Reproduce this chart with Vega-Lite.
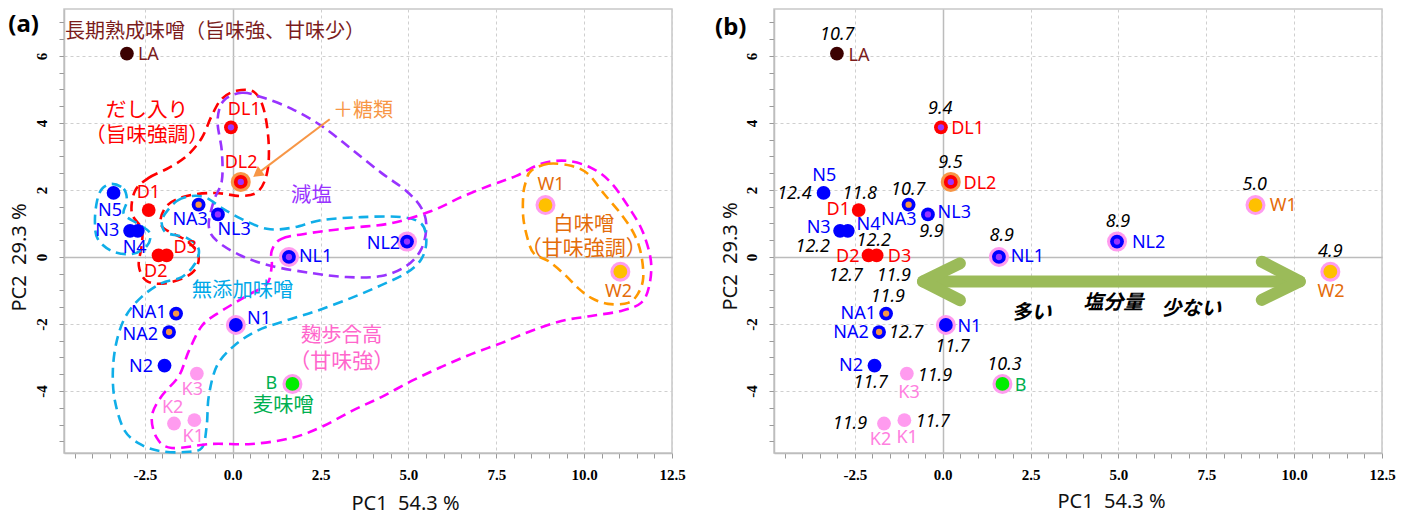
{
"$schema": "https://vega.github.io/schema/vega-lite/v6.json",
"autosize": {"type": "pad"},
"padding": {"left": 7, "top": 8, "right": 5, "bottom": 0},
"bounds": "flush",
"spacing": 102,
"background": "white",
"config": {
  "view": {"stroke": "#c8c8c8", "strokeWidth": 1.5},
  "axis": {"labelFont": "Liberation Serif", "labelFontWeight": "bold", "labelFontSize": 15, "labelColor": "#000", "titleFont": "Noto Sans", "titleFontSize": 20, "titleFontWeight": "normal", "titleColor": "#111", "domainColor": "#bdbdbd", "domainWidth": 1.5, "tickColor": "#999", "tickSize": 5, "tickWidth": 1, "labelFlush": false, "labelOverlap": false}
},
"datasets": {
  "pts": [
    {"id":"LA","x":-3.01,"y":6.07,"base":"L"},
    {"id":"DL1","x":-0.05,"y":3.87,"base":"D","inner":"減塩"},
    {"id":"DL2","x":0.23,"y":2.24,"base":"D","inner":"減塩","outer":"糖類"},
    {"id":"N5","x":-3.39,"y":1.91,"base":"N"},
    {"id":"D1","x":-2.39,"y":1.40,"base":"D"},
    {"id":"NA3","x":-0.97,"y":1.56,"base":"N","inner":"糖類"},
    {"id":"NL3","x":-0.42,"y":1.27,"base":"N","inner":"減塩"},
    {"id":"N3","x":-2.92,"y":0.78,"base":"N"},
    {"id":"N4","x":-2.70,"y":0.78,"base":"N"},
    {"id":"D2","x":-2.11,"y":0.05,"base":"D"},
    {"id":"D3","x":-1.88,"y":0.05,"base":"D"},
    {"id":"NL1","x":1.60,"y":0.0,"base":"N","inner":"減塩","outer":"麹"},
    {"id":"NL2","x":4.96,"y":0.46,"base":"N","inner":"減塩","outer":"麹"},
    {"id":"W1","x":8.90,"y":1.55,"base":"W","outer":"麹"},
    {"id":"W2","x":11.03,"y":-0.44,"base":"W","outer":"麹"},
    {"id":"NA1","x":-1.61,"y":-1.69,"base":"N","inner":"糖類"},
    {"id":"NA2","x":-1.81,"y":-2.24,"base":"N","inner":"糖類"},
    {"id":"N1","x":0.09,"y":-2.03,"base":"N","outer":"麹"},
    {"id":"N2","x":-1.94,"y":-3.24,"base":"N"},
    {"id":"K3","x":-1.02,"y":-3.48,"base":"K"},
    {"id":"K2","x":-1.67,"y":-4.97,"base":"K"},
    {"id":"K1","x":-1.09,"y":-4.87,"base":"K"},
    {"id":"B","x":1.70,"y":-3.79,"base":"B","outer":"麹"}
  ],
  "labA": [
    {"t":"LA","x":-2.40,"y":6.02,"base":"L"},
    {"t":"DL1","x":0.33,"y":4.39,"base":"D"},
    {"t":"DL2","x":0.24,"y":2.80,"base":"D"},
    {"t":"D1","x":-2.40,"y":1.92,"base":"D"},
    {"t":"N5","x":-3.49,"y":1.37,"base":"N"},
    {"t":"NA3","x":-1.21,"y":1.11,"base":"N"},
    {"t":"NL3","x":0.04,"y":0.80,"base":"N"},
    {"t":"N3","x":-3.57,"y":0.78,"base":"N"},
    {"t":"N4","x":-2.79,"y":0.26,"base":"N"},
    {"t":"D3","x":-1.35,"y":0.26,"base":"D"},
    {"t":"D2","x":-2.19,"y":-0.44,"base":"D"},
    {"t":"NL1","x":2.36,"y":0.0,"base":"N"},
    {"t":"NL2","x":4.29,"y":0.38,"base":"N"},
    {"t":"W1","x":9.06,"y":2.14,"base":"W"},
    {"t":"W2","x":10.98,"y":-1.04,"base":"W"},
    {"t":"NA1","x":-2.39,"y":-1.68,"base":"N"},
    {"t":"NA2","x":-2.63,"y":-2.34,"base":"N"},
    {"t":"N1","x":0.75,"y":-1.86,"base":"N"},
    {"t":"N2","x":-2.61,"y":-3.28,"base":"N"},
    {"t":"K3","x":-1.15,"y":-3.98,"base":"K"},
    {"t":"K2","x":-1.71,"y":-4.52,"base":"K"},
    {"t":"K1","x":-1.12,"y":-5.36,"base":"K"},
    {"t":"B","x":1.10,"y":-3.80,"base":"B"}
  ],
  "labB": [
    {"t":"LA","x":-2.38,"y":6.0,"base":"L"},
    {"t":"DL1","x":0.71,"y":3.81,"base":"D"},
    {"t":"DL2","x":1.06,"y":2.19,"base":"D"},
    {"t":"N5","x":-3.37,"y":2.42,"base":"N"},
    {"t":"D1","x":-2.97,"y":1.39,"base":"D"},
    {"t":"NA3","x":-1.25,"y":1.11,"base":"N"},
    {"t":"NL3","x":0.33,"y":1.32,"base":"N"},
    {"t":"N3","x":-3.53,"y":0.87,"base":"N"},
    {"t":"N4","x":-2.11,"y":0.94,"base":"N"},
    {"t":"D2","x":-2.70,"y":0.0,"base":"D"},
    {"t":"D3","x":-1.23,"y":0.0,"base":"D"},
    {"t":"NL1","x":2.41,"y":0.0,"base":"N"},
    {"t":"NL2","x":5.86,"y":0.43,"base":"N"},
    {"t":"W1","x":9.69,"y":1.52,"base":"W"},
    {"t":"W2","x":11.05,"y":-1.04,"base":"W"},
    {"t":"NA1","x":-2.40,"y":-1.71,"base":"N"},
    {"t":"NA2","x":-2.61,"y":-2.26,"base":"N"},
    {"t":"N1","x":0.76,"y":-2.09,"base":"N"},
    {"t":"N2","x":-2.61,"y":-3.25,"base":"N"},
    {"t":"K3","x":-0.96,"y":-4.05,"base":"K"},
    {"t":"B","x":2.22,"y":-3.85,"base":"B"},
    {"t":"K2","x":-1.77,"y":-5.47,"base":"K"},
    {"t":"K1","x":-1.01,"y":-5.41,"base":"K"}
  ],
  "salt": [
    {"t":"10.7","x":-3.00,"y":6.62},
    {"t":"9.4","x":-0.07,"y":4.41},
    {"t":"9.5","x":0.22,"y":2.79},
    {"t":"12.4","x":-4.22,"y":1.89},
    {"t":"11.8","x":-2.36,"y":1.89},
    {"t":"10.7","x":-0.98,"y":2.00},
    {"t":"9.9","x":-0.32,"y":0.76},
    {"t":"12.2","x":-3.70,"y":0.31},
    {"t":"12.2","x":-1.96,"y":0.48},
    {"t":"12.7","x":-2.76,"y":-0.58},
    {"t":"11.9","x":-1.39,"y":-0.58},
    {"t":"8.9","x":1.68,"y":0.62},
    {"t":"8.9","x":4.99,"y":1.04},
    {"t":"5.0","x":8.88,"y":2.14},
    {"t":"4.9","x":11.03,"y":0.15},
    {"t":"11.9","x":-1.56,"y":-1.19},
    {"t":"12.7","x":-1.04,"y":-2.26},
    {"t":"11.7","x":0.28,"y":-2.68},
    {"t":"11.7","x":-2.05,"y":-3.77},
    {"t":"11.9","x":-0.22,"y":-3.55},
    {"t":"10.3","x":1.76,"y":-3.21},
    {"t":"11.9","x":-2.64,"y":-4.98},
    {"t":"11.7","x":-0.28,"y":-4.93}
  ],
  "annA": [
    {"t":"長期熟成味噌（旨味強、甘味少）","x":-0.50,"y":6.70,"c":"head","k":"a"},
    {"t":"だし入り","x":-2.44,"y":4.36,"c":"dashi","k":"c"},
    {"t":"（旨味強調）","x":-2.44,"y":3.61,"c":"dashi","k":"c"},
    {"t":"＋糖類","x":3.71,"y":4.36,"c":"sugar","k":"a"},
    {"t":"減塩","x":2.24,"y":1.82,"c":"gen","k":"b"},
    {"t":"無添加味噌","x":0.28,"y":-1.01,"c":"mutenka","k":"b"},
    {"t":"麹歩合高","x":3.10,"y":-2.36,"c":"koji","k":"b"},
    {"t":"（甘味強）","x":3.10,"y":-3.13,"c":"koji","k":"d"},
    {"t":"麦味噌","x":1.44,"y":-4.44,"c":"mugi","k":"b"},
    {"t":"白味噌","x":9.99,"y":0.96,"c":"shiro","k":"b"},
    {"t":"（甘味強調）","x":9.99,"y":0.23,"c":"shiro","k":"d"}
  ],
  "annB": [
    {"t":"多い","x":2.53,"y":-1.66},
    {"t":"塩分量","x":4.85,"y":-1.36},
    {"t":"少ない","x":7.07,"y":-1.56}
  ],
  "tagA": [{"t":"(a)","x":-5.95,"y":6.93}],
  "tagB": [{"t":"(b)","x":-6.03,"y":6.84}],
  "arrowA": [
    {"s":"o","o":1,"x":2.76,"y":4.11},
    {"s":"o","o":2,"x":0.70,"y":2.48}
  ],
  "headA": [{"x":0.70,"y":2.48}],
  "arrowB": [
    {"s":"a","o":1,"x":-0.56,"y":-0.73},
    {"s":"a","o":2,"x":10.16,"y":-0.73},
    {"s":"b","o":1,"x":0.49,"y":-0.19},
    {"s":"b","o":2,"x":-0.56,"y":-0.73},
    {"s":"b","o":3,"x":0.49,"y":-1.29},
    {"s":"c","o":1,"x":9.08,"y":-0.14},
    {"s":"c","o":2,"x":10.16,"y":-0.73},
    {"s":"c","o":3,"x":9.08,"y":-1.28}
  ],
  "contours": [
    {"g":"dashi","o":1,"x":-2.78,"y":1.97},{"g":"dashi","o":2,"x":-2.39,"y":2.36},{"g":"dashi","o":3,"x":-1.82,"y":2.66},{"g":"dashi","o":4,"x":-1.31,"y":3.01},{"g":"dashi","o":5,"x":-0.88,"y":3.55},{"g":"dashi","o":6,"x":-0.60,"y":4.21},{"g":"dashi","o":7,"x":-0.31,"y":4.72},{"g":"dashi","o":8,"x":0.11,"y":4.96},{"g":"dashi","o":9,"x":0.60,"y":4.93},{"g":"dashi","o":10,"x":0.88,"y":4.42},{"g":"dashi","o":11,"x":1.02,"y":3.46},{"g":"dashi","o":12,"x":0.99,"y":2.57},{"g":"dashi","o":13,"x":0.74,"y":1.97},{"g":"dashi","o":14,"x":0.26,"y":1.82},{"g":"dashi","o":15,"x":-0.51,"y":1.91},{"g":"dashi","o":16,"x":-1.31,"y":1.82},{"g":"dashi","o":17,"x":-1.88,"y":1.52},{"g":"dashi","o":18,"x":-2.02,"y":0.93},{"g":"dashi","o":19,"x":-1.31,"y":0.48},{"g":"dashi","o":20,"x":-0.97,"y":0.03},{"g":"dashi","o":21,"x":-1.16,"y":-0.48},{"g":"dashi","o":22,"x":-1.88,"y":-0.78},{"g":"dashi","o":23,"x":-2.44,"y":-0.72},{"g":"dashi","o":24,"x":-2.67,"y":-0.27},{"g":"dashi","o":25,"x":-2.59,"y":0.33},{"g":"dashi","o":26,"x":-2.59,"y":0.84},{"g":"dashi","o":27,"x":-2.87,"y":1.31},
    {"g":"gen","o":1,"x":-0.26,"y":4.66},{"g":"gen","o":2,"x":0.26,"y":4.90},{"g":"gen","o":3,"x":0.88,"y":4.75},{"g":"gen","o":4,"x":1.68,"y":4.42},{"g":"gen","o":5,"x":2.53,"y":3.91},{"g":"gen","o":6,"x":3.38,"y":3.22},{"g":"gen","o":7,"x":4.23,"y":2.51},{"g":"gen","o":8,"x":4.94,"y":1.97},{"g":"gen","o":9,"x":5.37,"y":1.46},{"g":"gen","o":10,"x":5.51,"y":0.93},{"g":"gen","o":11,"x":5.37,"y":0.24},{"g":"gen","o":12,"x":4.94,"y":-0.27},{"g":"gen","o":13,"x":4.23,"y":-0.57},{"g":"gen","o":14,"x":3.24,"y":-0.60},{"g":"gen","o":15,"x":2.24,"y":-0.48},{"g":"gen","o":16,"x":1.11,"y":-0.27},{"g":"gen","o":17,"x":0.26,"y":0.03},{"g":"gen","o":18,"x":-0.45,"y":0.48},{"g":"gen","o":19,"x":-0.68,"y":0.93},{"g":"gen","o":20,"x":-0.54,"y":1.67},{"g":"gen","o":21,"x":-0.31,"y":2.27},{"g":"gen","o":22,"x":-0.31,"y":3.16},{"g":"gen","o":23,"x":-0.43,"y":4.06},
    {"g":"mut1","o":1,"x":-3.44,"y":2.18},{"g":"mut1","o":2,"x":-3.10,"y":2.03},{"g":"mut1","o":3,"x":-3.01,"y":1.67},{"g":"mut1","o":4,"x":-3.10,"y":1.28},{"g":"mut1","o":5,"x":-2.73,"y":1.01},{"g":"mut1","o":6,"x":-2.36,"y":0.72},{"g":"mut1","o":7,"x":-2.44,"y":0.33},{"g":"mut1","o":8,"x":-2.87,"y":0.09},{"g":"mut1","o":9,"x":-3.44,"y":0.18},{"g":"mut1","o":10,"x":-3.84,"y":0.54},{"g":"mut1","o":11,"x":-3.92,"y":1.07},{"g":"mut1","o":12,"x":-3.86,"y":1.67},{"g":"mut1","o":13,"x":-3.72,"y":2.03},
    {"g":"mut2","o":1,"x":-1.93,"y":1.28},{"g":"mut2","o":2,"x":-1.59,"y":1.67},{"g":"mut2","o":3,"x":-1.16,"y":1.82},{"g":"mut2","o":4,"x":-0.74,"y":1.76},{"g":"mut2","o":5,"x":-0.31,"y":1.46},{"g":"mut2","o":6,"x":0.26,"y":1.13},{"g":"mut2","o":7,"x":0.97,"y":0.84},{"g":"mut2","o":8,"x":1.68,"y":0.87},{"g":"mut2","o":9,"x":2.53,"y":1.10},{"g":"mut2","o":10,"x":3.66,"y":1.19},{"g":"mut2","o":11,"x":4.80,"y":1.19},{"g":"mut2","o":12,"x":5.37,"y":0.99},{"g":"mut2","o":13,"x":5.51,"y":0.48},{"g":"mut2","o":14,"x":5.37,"y":-0.06},{"g":"mut2","o":15,"x":4.94,"y":-0.48},{"g":"mut2","o":16,"x":4.23,"y":-0.84},{"g":"mut2","o":17,"x":3.38,"y":-1.22},{"g":"mut2","o":18,"x":2.39,"y":-1.61},{"g":"mut2","o":19,"x":1.48,"y":-1.91},{"g":"mut2","o":20,"x":0.68,"y":-2.21},{"g":"mut2","o":21,"x":0.03,"y":-2.66},{"g":"mut2","o":22,"x":-0.45,"y":-3.25},{"g":"mut2","o":23,"x":-0.68,"y":-4.15},{"g":"mut2","o":24,"x":-0.74,"y":-5.04},{"g":"mut2","o":25,"x":-0.88,"y":-5.70},{"g":"mut2","o":26,"x":-1.36,"y":-5.82},{"g":"mut2","o":27,"x":-2.02,"y":-5.80},{"g":"mut2","o":28,"x":-2.59,"y":-5.61},{"g":"mut2","o":29,"x":-3.07,"y":-5.19},{"g":"mut2","o":30,"x":-3.35,"y":-4.30},{"g":"mut2","o":31,"x":-3.41,"y":-3.40},{"g":"mut2","o":32,"x":-3.30,"y":-2.51},{"g":"mut2","o":33,"x":-3.04,"y":-1.76},{"g":"mut2","o":34,"x":-2.59,"y":-1.19},{"g":"mut2","o":35,"x":-2.02,"y":-0.78},{"g":"mut2","o":36,"x":-1.45,"y":-0.60},{"g":"mut2","o":37,"x":-1.08,"y":-0.21},{"g":"mut2","o":38,"x":-0.97,"y":0.24},{"g":"mut2","o":39,"x":-1.31,"y":0.57},{"g":"mut2","o":40,"x":-1.88,"y":0.72},{"g":"mut2","o":41,"x":-2.02,"y":1.01},
    {"g":"koji","o":1,"x":1.11,"y":0.18},{"g":"koji","o":2,"x":1.39,"y":0.54},{"g":"koji","o":3,"x":2.24,"y":0.72},{"g":"koji","o":4,"x":3.38,"y":0.87},{"g":"koji","o":5,"x":4.52,"y":1.01},{"g":"koji","o":6,"x":5.65,"y":1.37},{"g":"koji","o":7,"x":6.51,"y":1.79},{"g":"koji","o":8,"x":7.36,"y":2.15},{"g":"koji","o":9,"x":8.07,"y":2.42},{"g":"koji","o":10,"x":8.78,"y":2.78},{"g":"koji","o":11,"x":9.49,"y":2.87},{"g":"koji","o":12,"x":10.20,"y":2.66},{"g":"koji","o":13,"x":10.77,"y":2.21},{"g":"koji","o":14,"x":11.34,"y":1.37},{"g":"koji","o":15,"x":11.68,"y":0.72},{"g":"koji","o":16,"x":11.90,"y":-0.12},{"g":"koji","o":17,"x":11.85,"y":-0.87},{"g":"koji","o":18,"x":11.62,"y":-1.37},{"g":"koji","o":19,"x":11.05,"y":-1.61},{"g":"koji","o":20,"x":10.20,"y":-1.76},{"g":"koji","o":21,"x":9.35,"y":-1.91},{"g":"koji","o":22,"x":8.49,"y":-2.21},{"g":"koji","o":23,"x":7.64,"y":-2.57},{"g":"koji","o":24,"x":6.79,"y":-2.90},{"g":"koji","o":25,"x":5.94,"y":-3.28},{"g":"koji","o":26,"x":5.09,"y":-3.70},{"g":"koji","o":27,"x":4.23,"y":-4.18},{"g":"koji","o":28,"x":3.38,"y":-4.60},{"g":"koji","o":29,"x":2.53,"y":-5.07},{"g":"koji","o":30,"x":1.68,"y":-5.40},{"g":"koji","o":31,"x":0.54,"y":-5.58},{"g":"koji","o":32,"x":-0.60,"y":-5.58},{"g":"koji","o":33,"x":-1.73,"y":-5.70},{"g":"koji","o":34,"x":-2.16,"y":-5.40},{"g":"koji","o":35,"x":-2.30,"y":-4.75},{"g":"koji","o":36,"x":-2.02,"y":-4.15},{"g":"koji","o":37,"x":-1.53,"y":-3.55},{"g":"koji","o":38,"x":-1.25,"y":-2.81},{"g":"koji","o":39,"x":-0.88,"y":-2.06},{"g":"koji","o":40,"x":-0.45,"y":-1.70},{"g":"koji","o":41,"x":0.40,"y":-1.16},{"g":"koji","o":42,"x":0.97,"y":-0.81},{"g":"koji","o":43,"x":1.11,"y":-0.27},
    {"g":"shiro","o":1,"x":8.49,"y":2.57},{"g":"shiro","o":2,"x":8.98,"y":2.78},{"g":"shiro","o":3,"x":9.63,"y":2.72},{"g":"shiro","o":4,"x":10.11,"y":2.48},{"g":"shiro","o":5,"x":10.57,"y":1.88},{"g":"shiro","o":6,"x":11.05,"y":1.28},{"g":"shiro","o":7,"x":11.42,"y":0.69},{"g":"shiro","o":8,"x":11.62,"y":0.09},{"g":"shiro","o":9,"x":11.68,"y":-0.63},{"g":"shiro","o":10,"x":11.53,"y":-1.10},{"g":"shiro","o":11,"x":11.25,"y":-1.37},{"g":"shiro","o":12,"x":10.68,"y":-1.40},{"g":"shiro","o":13,"x":10.20,"y":-1.22},{"g":"shiro","o":14,"x":9.83,"y":-0.93},{"g":"shiro","o":15,"x":9.43,"y":-0.51},{"g":"shiro","o":16,"x":8.98,"y":-0.12},{"g":"shiro","o":17,"x":8.58,"y":0.09},{"g":"shiro","o":18,"x":8.41,"y":0.48},{"g":"shiro","o":19,"x":8.27,"y":1.16},{"g":"shiro","o":20,"x":8.27,"y":1.88},{"g":"shiro","o":21,"x":8.35,"y":2.27}
  ]
},
"hconcat": [
  {
    "width": 608, "height": 444,
    "encoding": {
      "x": {"field": "x", "type": "quantitative", "scale": {"domain": [-4.8, 12.5], "nice": false, "zero": false},
        "axis": {"values": [-4.5,-4,-3.5,-3,-2.5,-2,-1.5,-1,-0.5,0,0.5,1,1.5,2,2.5,3,3.5,4,4.5,5,5.5,6,6.5,7,7.5,8,8.5,9,9.5,10,10.5,11,11.5,12,12.5],
          "labelExpr": "datum.value % 2.5 === 0 ? replace(format(datum.value, '.1f'), '\u2212', '-') : ''",
          "labelBaseline": "middle", "labelPadding": 16,
          "title": "PC1\u00a0\u00a054.3\u00a0%", "titleX": 341, "titleY": 50, "titleBaseline": "middle", "titleAlign": "center",
          "grid": true,
          "gridOpacity": {"condition": {"test": "datum.value % 2.5 === 0", "value": 1}, "value": 0},
          "gridDash": {"condition": {"test": "datum.value === 0", "value": []}, "value": [3, 3]},
          "gridColor": {"condition": {"test": "datum.value === 0", "value": "#bcbcbc"}, "value": "#cfcfcf"},
          "gridWidth": {"condition": {"test": "datum.value === 0", "value": 1.5}, "value": 1}}},
      "y": {"field": "y", "type": "quantitative", "scale": {"domain": [-5.85, 7.4], "nice": false, "zero": false},
        "axis": {"values": [-5.5,-5,-4.5,-4,-3.5,-3,-2.5,-2,-1.5,-1,-0.5,0,0.5,1,1.5,2,2.5,3,3.5,4,4.5,5,5.5,6,6.5,7],
          "labelExpr": "datum.value % 2 === 0 ? replace(format(datum.value, 'd'), '\u2212', '-') : ''",
          "labelAngle": -90, "labelAlign": "center", "labelBaseline": "middle", "labelPadding": 18,
          "title": "PC2\u00a0\u00a029.3\u00a0%", "titleX": -45, "titleY": 248, "titleAngle": -90, "titleBaseline": "middle", "titleAlign": "center",
          "grid": true,
          "gridOpacity": {"condition": {"test": "datum.value % 2 === 0", "value": 1}, "value": 0},
          "gridDash": {"condition": {"test": "datum.value === 0", "value": []}, "value": [3, 3]},
          "gridColor": {"condition": {"test": "datum.value === 0", "value": "#bcbcbc"}, "value": "#cfcfcf"},
          "gridWidth": {"condition": {"test": "datum.value === 0", "value": 1.5}, "value": 1}}}
    },
    "layer": [
      {"data": {"name": "contours"},
       "mark": {"type": "line", "interpolate": "cardinal-closed", "strokeWidth": 2.6, "strokeDash": [10, 6]},
       "encoding": {"order": {"field": "o", "type": "quantitative"},
         "stroke": {"field": "g", "type": "nominal", "legend": null,
           "scale": {"domain": ["dashi","gen","mut1","mut2","koji","shiro"], "range": ["#ff0000","#9933ff","#10aee8","#10aee8","#ff00ff","#ff9900"]}}}},
      {"data": {"name": "arrowA"},
       "mark": {"type": "line", "color": "#f79646", "strokeWidth": 2},
       "encoding": {"order": {"field": "o", "type": "quantitative"}}},
      {"data": {"name": "headA"},
       "mark": {"type": "point", "shape": "triangle-up", "angle": 233, "size": 140, "filled": true, "color": "#f79646", "opacity": 1}},
      {"data": {"name": "pts"}, "transform": [{"filter": "datum.outer"}],
       "mark": {"type": "circle", "size": 400, "opacity": 1},
       "encoding": {"fill": {"field": "outer", "type": "nominal", "legend": null,
         "scale": {"domain": ["N","D","K","L","W","B","減塩","糖類","麹"], "range": ["#0000ff","#ff0000","#ff9bef","#3c0000","#ffc000","#00ee00","#9933ff","#f79646","#ff9bef"]}}}},
      {"data": {"name": "pts"},
       "mark": {"type": "circle", "size": 190, "opacity": 1},
       "encoding": {"fill": {"field": "base", "type": "nominal", "legend": null,
         "scale": {"domain": ["N","D","K","L","W","B","減塩","糖類","麹"], "range": ["#0000ff","#ff0000","#ff9bef","#3c0000","#ffc000","#00ee00","#9933ff","#f79646","#ff9bef"]}}}},
      {"data": {"name": "pts"}, "transform": [{"filter": "datum.inner"}],
       "mark": {"type": "circle", "size": 40, "opacity": 1},
       "encoding": {"fill": {"field": "inner", "type": "nominal", "legend": null,
         "scale": {"domain": ["N","D","K","L","W","B","減塩","糖類","麹"], "range": ["#0000ff","#ff0000","#ff9bef","#3c0000","#ffc000","#00ee00","#9933ff","#f79646","#ff9bef"]}}}},
      {"data": {"name": "labA"},
       "mark": {"type": "text", "font": "Noto Sans", "fontSize": 18, "baseline": "middle", "align": "center"},
       "encoding": {"text": {"field": "t"},
         "color": {"field": "base", "type": "nominal", "legend": null,
           "scale": {"domain": ["N","D","K","L","W","B","head","dashi","sugar","gen","mutenka","koji","mugi","shiro"], "range": ["#0000ff","#ff0000","#ff80e0","#7b1c1c","#e46c0a","#00b050","#7b1c1c","#ff0000","#f79646","#9933ff","#00a8e8","#ff66cc","#00b050","#e46c0a"]}}}},
      {"data": {"name": "annA"},
       "mark": {"type": "text", "font": "Noto Sans CJK JP", "baseline": "middle", "align": "center"},
       "encoding": {"text": {"field": "t"},
         "size": {"field": "k", "type": "nominal", "legend": null, "scale": {"domain": ["a","b","c","d"], "range": [20, 21, 18, 17]}},
         "color": {"field": "c", "type": "nominal", "legend": null,
           "scale": {"domain": ["N","D","K","L","W","B","head","dashi","sugar","gen","mutenka","koji","mugi","shiro"], "range": ["#0000ff","#ff0000","#ff80e0","#7b1c1c","#e46c0a","#00b050","#7b1c1c","#ff0000","#f79646","#9933ff","#00a8e8","#ff66cc","#00b050","#e46c0a"]}}}},
      {"data": {"name": "tagA"},
       "mark": {"type": "text", "font": "Noto Sans", "fontSize": 24, "fontWeight": "bold", "color": "#000", "baseline": "middle", "align": "center"},
       "encoding": {"text": {"field": "t"}}}
    ]
  },
  {
    "width": 608, "height": 444,
    "encoding": {
      "x": {"field": "x", "type": "quantitative", "scale": {"domain": [-4.8, 12.5], "nice": false, "zero": false},
        "axis": {"values": [-4.5,-4,-3.5,-3,-2.5,-2,-1.5,-1,-0.5,0,0.5,1,1.5,2,2.5,3,3.5,4,4.5,5,5.5,6,6.5,7,7.5,8,8.5,9,9.5,10,10.5,11,11.5,12,12.5],
          "labelExpr": "datum.value % 2.5 === 0 ? replace(format(datum.value, '.1f'), '\u2212', '-') : ''",
          "labelBaseline": "middle", "labelPadding": 16,
          "title": "PC1\u00a0\u00a054.3\u00a0%", "titleX": 337, "titleY": 48, "titleBaseline": "middle", "titleAlign": "center",
          "grid": true,
          "gridOpacity": {"condition": {"test": "datum.value % 2.5 === 0", "value": 1}, "value": 0},
          "gridDash": {"condition": {"test": "datum.value === 0", "value": []}, "value": [3, 3]},
          "gridColor": {"condition": {"test": "datum.value === 0", "value": "#bcbcbc"}, "value": "#cfcfcf"},
          "gridWidth": {"condition": {"test": "datum.value === 0", "value": 1.5}, "value": 1}}},
      "y": {"field": "y", "type": "quantitative", "scale": {"domain": [-5.85, 7.4], "nice": false, "zero": false},
        "axis": {"values": [-5.5,-5,-4.5,-4,-3.5,-3,-2.5,-2,-1.5,-1,-0.5,0,0.5,1,1.5,2,2.5,3,3.5,4,4.5,5,5.5,6,6.5,7],
          "labelExpr": "datum.value % 2 === 0 ? replace(format(datum.value, 'd'), '\u2212', '-') : ''",
          "labelAngle": -90, "labelAlign": "center", "labelBaseline": "middle", "labelPadding": 18,
          "title": "PC2\u00a0\u00a029.3\u00a0%", "titleX": -44, "titleY": 247, "titleAngle": -90, "titleBaseline": "middle", "titleAlign": "center",
          "grid": true,
          "gridOpacity": {"condition": {"test": "datum.value % 2 === 0", "value": 1}, "value": 0},
          "gridDash": {"condition": {"test": "datum.value === 0", "value": []}, "value": [3, 3]},
          "gridColor": {"condition": {"test": "datum.value === 0", "value": "#bcbcbc"}, "value": "#cfcfcf"},
          "gridWidth": {"condition": {"test": "datum.value === 0", "value": 1.5}, "value": 1}}}
    },
    "layer": [
      {"data": {"name": "arrowB"},
       "mark": {"type": "line", "color": "#9bbb59", "strokeWidth": 12, "strokeCap": "round", "strokeJoin": "round"},
       "encoding": {"detail": {"field": "s"}, "order": {"field": "o", "type": "quantitative"}}},
      {"data": {"name": "pts"}, "transform": [{"filter": "datum.outer"}],
       "mark": {"type": "circle", "size": 400, "opacity": 1},
       "encoding": {"fill": {"field": "outer", "type": "nominal", "legend": null,
         "scale": {"domain": ["N","D","K","L","W","B","減塩","糖類","麹"], "range": ["#0000ff","#ff0000","#ff9bef","#3c0000","#ffc000","#00ee00","#9933ff","#f79646","#ff9bef"]}}}},
      {"data": {"name": "pts"},
       "mark": {"type": "circle", "size": 190, "opacity": 1},
       "encoding": {"fill": {"field": "base", "type": "nominal", "legend": null,
         "scale": {"domain": ["N","D","K","L","W","B","減塩","糖類","麹"], "range": ["#0000ff","#ff0000","#ff9bef","#3c0000","#ffc000","#00ee00","#9933ff","#f79646","#ff9bef"]}}}},
      {"data": {"name": "pts"}, "transform": [{"filter": "datum.inner"}],
       "mark": {"type": "circle", "size": 40, "opacity": 1},
       "encoding": {"fill": {"field": "inner", "type": "nominal", "legend": null,
         "scale": {"domain": ["N","D","K","L","W","B","減塩","糖類","麹"], "range": ["#0000ff","#ff0000","#ff9bef","#3c0000","#ffc000","#00ee00","#9933ff","#f79646","#ff9bef"]}}}},
      {"data": {"name": "labB"},
       "mark": {"type": "text", "font": "Noto Sans", "fontSize": 18, "baseline": "middle", "align": "center"},
       "encoding": {"text": {"field": "t"},
         "color": {"field": "base", "type": "nominal", "legend": null,
           "scale": {"domain": ["N","D","K","L","W","B"], "range": ["#0000ff","#ff0000","#ff80e0","#7b1c1c","#e46c0a","#00b050"]}}}},
      {"data": {"name": "salt"},
       "mark": {"type": "text", "font": "Noto Sans", "fontSize": 18, "fontStyle": "italic", "color": "#000", "baseline": "middle", "align": "center"},
       "encoding": {"text": {"field": "t"}}},
      {"data": {"name": "annB"},
       "mark": {"type": "text", "font": "Noto Sans CJK JP", "fontSize": 20, "fontWeight": "bold", "fontStyle": "italic", "color": "#000", "baseline": "middle", "align": "center"},
       "encoding": {"text": {"field": "t"}}},
      {"data": {"name": "tagB"},
       "mark": {"type": "text", "font": "Noto Sans", "fontSize": 24, "fontWeight": "bold", "color": "#000", "baseline": "middle", "align": "center"},
       "encoding": {"text": {"field": "t"}}}
    ]
  }
]
}
